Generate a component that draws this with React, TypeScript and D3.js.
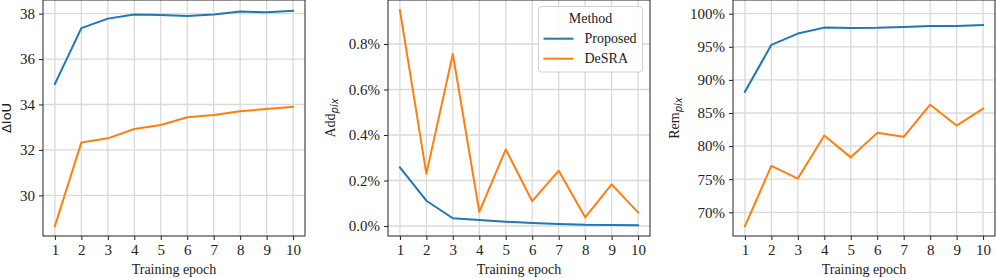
import React, { useEffect, useRef } from 'react';
import * as d3 from 'd3';

const epochs = [1, 2, 3, 4, 5, 6, 7, 8, 9, 10];
const methods = ['Proposed', 'DeSRA'];
const colors = ['#1f77b4', '#ff7f0e'];

const iouProposed = [34.9, 37.36, 37.78, 37.96, 37.94, 37.9, 37.96, 38.09, 38.06, 38.12];
const iouDesra = [28.65, 32.33, 32.51, 32.92, 33.1, 33.44, 33.54, 33.7, 33.8, 33.9];

const addProposed = [0.258, 0.111, 0.034, 0.026, 0.019, 0.013, 0.009, 0.005, 0.004, 0.003];
const addDesra = [0.949, 0.229, 0.756, 0.062, 0.337, 0.109, 0.243, 0.038, 0.183, 0.06];

const remProposed = [88.2, 95.3, 97.0, 97.9, 97.85, 97.87, 97.98, 98.15, 98.15, 98.3];
const remDesra = [67.9, 77.0, 75.1, 81.6, 78.3, 82.0, 81.4, 86.25, 83.1, 85.65];

const iouTicks = [30, 32, 34, 36, 38];
const addTicks = [0, 0.2, 0.4, 0.6, 0.8];
const remTicks = [70, 75, 80, 85, 90, 95, 100];

const serif = '"Liberation Serif", "Times New Roman", serif';
const sans = '"DejaVu Sans", sans-serif';

export default function App() {
  const ref = useRef<SVGSVGElement>(null);

  useEffect(() => {
    const svg = d3.select(ref.current);
    svg.selectAll('*').remove();

    const W = 262, top = 0, bottom = 236;
    const panels = [
      { left: 43, series: [iouProposed, iouDesra], domain: [28.21, 38.6], ticks: iouTicks, fmt: (d: number) => String(d), label: 'ΔIoU', sub: '', labelX: 6, labelFont: sans },
      { left: 388, series: [addProposed, addDesra], domain: [-0.044, 0.9934], ticks: addTicks, fmt: (d: number) => d.toFixed(1) + '%', label: 'Add', sub: 'pix', labelX: 335, labelFont: serif },
      { left: 733, series: [remProposed, remDesra], domain: [66.42, 102.07], ticks: remTicks, fmt: (d: number) => d + '%', label: 'Rem', sub: 'pix', labelX: 679, labelFont: serif },
    ];

    panels.forEach((p, pi) => {
      const x = d3.scaleLinear().domain([0.55, 10.45]).range([p.left, p.left + W]);
      const y = d3.scaleLinear().domain(p.domain).range([bottom, top]);
      const g = svg.append('g');

      // grid
      g.selectAll('.vx').data(epochs).enter().append('line')
        .attr('x1', d => x(d)).attr('x2', d => x(d))
        .attr('y1', top).attr('y2', bottom)
        .attr('stroke', '#dadada').attr('stroke-width', 1.3);
      g.selectAll('.hy').data(p.ticks).enter().append('line')
        .attr('x1', p.left).attr('x2', p.left + W)
        .attr('y1', d => y(d)).attr('y2', d => y(d))
        .attr('stroke', '#dadada').attr('stroke-width', 1.3);

      // lines
      const line = d3.line<number>().x((_, i) => x(epochs[i])).y(d => y(d));
      p.series.forEach((s, si) => {
        g.append('path').datum(s)
          .attr('d', line)
          .attr('fill', 'none')
          .attr('stroke', colors[si])
          .attr('stroke-width', 2)
          .attr('stroke-linejoin', 'round')
          .attr('stroke-linecap', 'square');
      });

      // frame
      g.append('rect')
        .attr('x', p.left).attr('y', top)
        .attr('width', W).attr('height', bottom - top)
        .attr('fill', 'none').attr('stroke', '#222').attr('stroke-width', 1);

      // x axis
      const xa = g.append('g').attr('transform', `translate(0,${bottom})`)
        .call(d3.axisBottom(x).tickValues(epochs).tickSize(4).tickPadding(4).tickFormat(d3.format('d')));
      xa.select('.domain').remove();
      xa.selectAll('line').attr('stroke', '#222');
      xa.selectAll('text').attr('font-family', serif).attr('font-size', 15).attr('fill', '#222');

      const ya = g.append('g').attr('transform', `translate(${p.left},0)`)
        .call(d3.axisLeft(y).tickValues(p.ticks).tickSize(4).tickPadding(4).tickFormat(d => p.fmt(+d)));
      ya.select('.domain').remove();
      ya.selectAll('line').attr('stroke', '#222');
      ya.selectAll('text').attr('font-family', serif).attr('font-size', 15).attr('fill', '#222');

      g.append('text')
        .attr('x', p.left + W / 2).attr('y', 274)
        .attr('text-anchor', 'middle')
        .attr('font-family', serif).attr('font-size', 14).attr('fill', '#222')
        .text('Training epoch');

      const yl = g.append('text')
        .attr('transform', `translate(${p.labelX},${(top + bottom) / 2}) rotate(-90)`)
        .attr('text-anchor', 'middle')
        .attr('dominant-baseline', pi === 0 ? 'central' : 'auto')
        .attr('font-family', p.labelFont).attr('font-size', pi === 0 ? 13 : 14).attr('fill', '#222');
      yl.append('tspan').text(p.label);
      if (p.sub) {
        yl.append('tspan').attr('font-family', sans).attr('font-style', 'italic')
          .attr('font-size', 10).attr('dy', 3).text(p.sub);
      }

      if (pi === 1) {
        const lg = g.append('g');
        lg.append('rect')
          .attr('x', 538.5).attr('y', 6.5).attr('width', 104).attr('height', 65.5)
          .attr('rx', 3).attr('fill', 'rgba(255,255,255,0.85)')
          .attr('stroke', '#d0d0d0').attr('stroke-width', 1);
        lg.append('text')
          .attr('x', 590.5).attr('y', 23)
          .attr('text-anchor', 'middle')
          .attr('font-family', serif).attr('font-size', 14).attr('fill', '#222')
          .text('Method');
        methods.forEach((m, mi) => {
          const yy = 38.7 + mi * 20;
          lg.append('line')
            .attr('x1', 543.5).attr('x2', 573.5).attr('y1', yy).attr('y2', yy)
            .attr('stroke', colors[mi]).attr('stroke-width', 2);
          lg.append('text')
            .attr('x', 584.5).attr('y', yy + 4.5)
            .attr('font-family', serif).attr('font-size', 14).attr('fill', '#222')
            .text(m);
        });
      }
    });
  }, []);

  return (
    <svg ref={ref} width={996} height={278}
      style={{ position: 'absolute', left: 0, top: 0, background: '#fff' }} />
  );
}
